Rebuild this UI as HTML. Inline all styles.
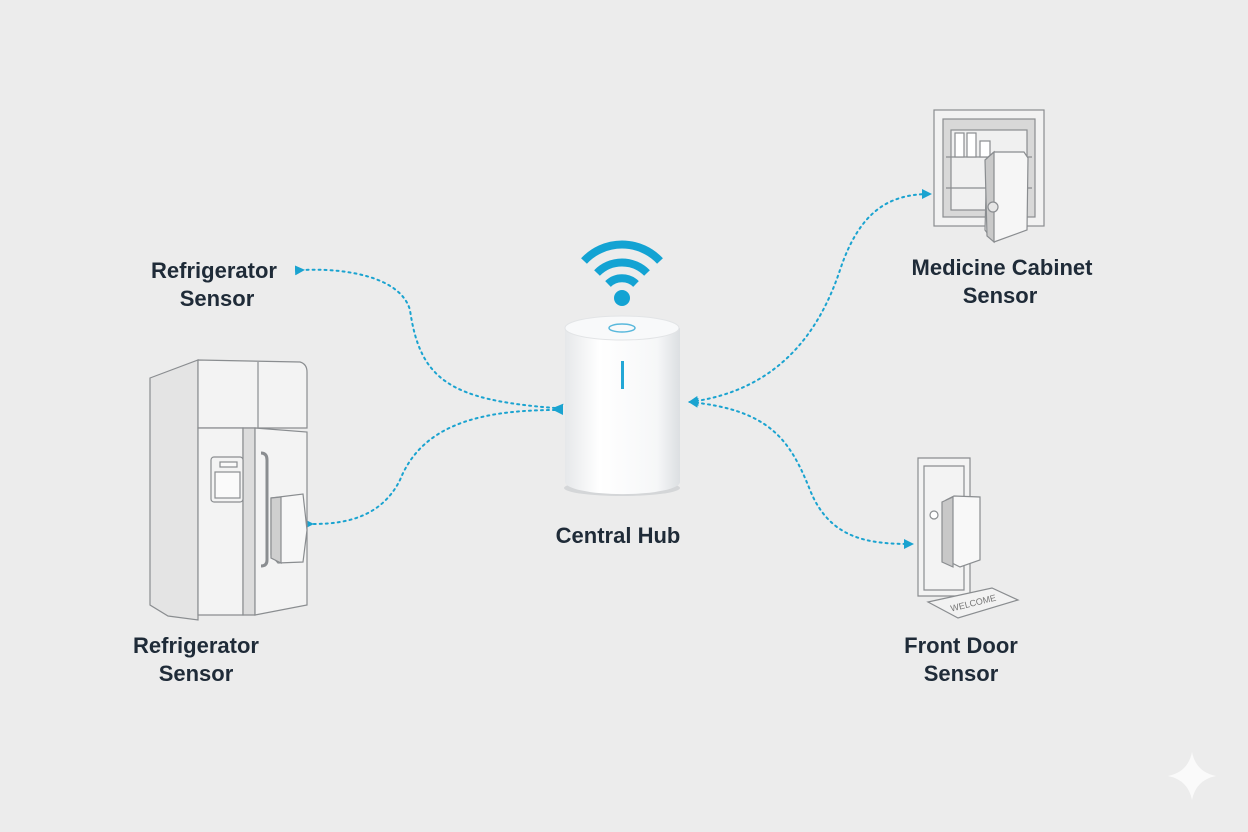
<!DOCTYPE html>
<html><head><style>
html,body{margin:0;padding:0;background:#ececec;}
svg{display:block}
text{font-family:"Liberation Sans",sans-serif;font-weight:bold;fill:#1f2b38;font-size:22px;text-anchor:middle}
</style></head><body>
<svg width="1248" height="832" viewBox="0 0 1248 832">
<rect width="1248" height="832" fill="#ececec"/>
<defs>
<marker id="a" markerWidth="10" markerHeight="10" refX="8" refY="5" orient="auto" markerUnits="userSpaceOnUse"><path d="M0,0 L10,5 L0,10Z" fill="#1aa3d0"/></marker>
<marker id="b" markerWidth="10" markerHeight="10" refX="2" refY="5" orient="auto" markerUnits="userSpaceOnUse"><path d="M10,0 L0,5 L10,10Z" fill="#1aa3d0"/></marker>
<linearGradient id="cyl" x1="0" x2="1"><stop offset="0" stop-color="#e6e8ea"/><stop offset="0.3" stop-color="#fff"/><stop offset="0.8" stop-color="#f6f7f8"/><stop offset="1" stop-color="#dcdfe2"/></linearGradient>
</defs>
<g fill="none" stroke="#1aa3d0" stroke-width="2" stroke-dasharray="2 4" stroke-linecap="round">
<path d="M555,408 C450,400 420,380 410,310 C400,275 340,268 303,270" marker-start="url(#a)" marker-end="url(#b)"/>
<path d="M555,410 C470,410 420,430 400,480 C380,520 340,524 312,524" marker-start="url(#a)" marker-end="url(#b)"/>
<path d="M690,402 C780,390 820,330 840,270 C860,210 890,194 930,194" marker-start="url(#b)" marker-end="url(#a)"/>
<path d="M690,402 C770,410 790,440 810,490 C830,540 870,544 912,544" marker-start="url(#b)" marker-end="url(#a)"/>
</g>
<g fill="none" stroke="#13a3d3" stroke-width="8">
<path d="M608,284 A20,20 0 0 1 636,284"/>
<path d="M597,273 A35,35 0 0 1 647,273"/>
<path d="M584,261 A52,52 0 0 1 660,261"/>
</g>
<circle cx="622" cy="298" r="8" fill="#13a3d3"/>
<ellipse cx="622" cy="488" rx="58" ry="8" fill="#d4d6d8"/>
<path d="M565,328 L565,482 A57,12 0 0 0 680,482 L680,328Z" fill="url(#cyl)"/>
<ellipse cx="622" cy="328" rx="57" ry="12" fill="#f8f9fa" stroke="#e2e4e6"/>
<ellipse cx="622" cy="328" rx="13" ry="4" fill="none" stroke="#59b8dc" stroke-width="1.5"/>
<rect x="621" y="361" width="3" height="28" fill="#23a7d6"/>
<g stroke="#8a8d90" stroke-width="1.2" fill="#f3f3f3">
<path d="M150,378 L198,360 L198,620 L168,616 L150,605Z" fill="#e4e4e4"/>
<path d="M198,360 L300,362 Q307,364 307,372 L307,428 L198,428Z"/>
<line x1="258" y1="362" x2="258" y2="428"/>
<path d="M198,428 L243,428 L243,615 L198,615Z"/>
<path d="M243,428 L255,428 L255,615 L243,615Z" fill="#dcdcdc"/>
<path d="M255,428 L307,432 L307,605 L255,615Z"/>
<rect x="211" y="457" width="32" height="45" rx="3"/>
<rect x="215" y="472" width="25" height="26" fill="#fafafa"/>
<rect x="220" y="462" width="17" height="5" fill="#fafafa"/>
<path d="M261,453 Q267,453 267,460 L267,560 Q267,566 261,566" fill="none" stroke-width="3"/>
<path d="M271,498 L303,494 L307,530 L303,562 L278,563 L271,555Z" fill="#f7f7f7"/>
<path d="M271,498 L281,497 L281,563 L271,558Z" fill="#cfcfcf"/>
</g>
<g stroke="#8a8d90" stroke-width="1.2">
<rect x="934" y="110" width="110" height="116" fill="#f2f2f2"/>
<rect x="943" y="119" width="92" height="98" fill="#d8d8d8"/>
<rect x="951" y="130" width="76" height="80" fill="#f0f0f0"/>
<line x1="946" y1="157" x2="1032" y2="157"/>
<line x1="946" y1="188" x2="1032" y2="188"/>
<rect x="955" y="133" width="9" height="24" fill="#fff"/>
<rect x="967" y="133" width="9" height="24" fill="#fff"/>
<rect x="980" y="141" width="10" height="16" fill="#fff"/>
<path d="M987,158 L994,152 L1024,152 L1028,158 L1027,230 L994,242 L985,230Z" fill="#f6f6f6"/>
<path d="M985,160 L994,152 L994,242 L987,236Z" fill="#c9c9c9"/>
<circle cx="993" cy="207" r="5" fill="#e6e6e6"/>
</g>
<g stroke="#8a8d90" stroke-width="1.2" fill="#f3f3f3">
<path d="M918,458 L970,458 L970,596 L918,596Z"/>
<path d="M924,466 L964,466 L964,590 L924,590Z"/>
<path d="M946,500 L954,496 L980,497 L980,560 L960,567 L946,560Z" fill="#f8f8f8"/>
<path d="M942,502 L953,497 L953,567 L942,562Z" fill="#c8c8c8"/>
<circle cx="934" cy="515" r="4" fill="#fff"/>
<path d="M928,602 L992,588 L1018,600 L958,618Z" fill="#f2f2f2"/>
</g>
<text x="974" y="606" style="font-size:9px;font-weight:normal;fill:#777" transform="rotate(-14 974 606)">WELCOME</text>
<text x="214" y="278">Refrigerator</text>
<text x="217" y="306">Sensor</text>
<text x="196" y="653">Refrigerator</text>
<text x="196" y="681">Sensor</text>
<text x="618" y="543">Central Hub</text>
<text x="1002" y="275">Medicine Cabinet</text>
<text x="1000" y="303">Sensor</text>
<text x="961" y="653">Front Door</text>
<text x="961" y="681">Sensor</text>
<path d="M1192,752 Q1196,772 1216,776 Q1196,780 1192,800 Q1188,780 1168,776 Q1188,772 1192,752Z" fill="#fafafa"/>
</svg>
</body></html>
